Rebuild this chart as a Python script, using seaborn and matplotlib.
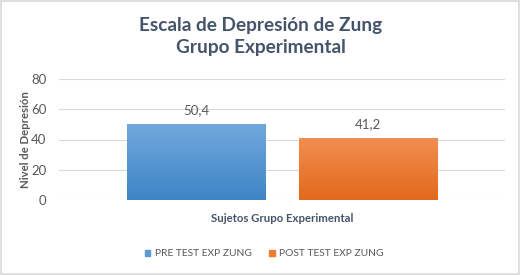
import matplotlib
matplotlib.use("Agg")
import matplotlib.pyplot as plt
import matplotlib.patches as mpatches
from matplotlib.colors import LinearSegmentedColormap
import numpy as np
import pandas as pd
import seaborn as sns

# ---- data ----
categories = ["Sujetos Grupo Experimental"]
series = ["PRE TEST EXP ZUNG", "POST TEST EXP ZUNG"]
values = [50.4, 41.2]
value_labels = ["50,4", "41,2"]
yticks = [0, 20, 40, 60, 80]

df = pd.DataFrame({"cat": categories * len(series), "serie": series, "valor": values})

sns.set_theme(style="white")
plt.rcParams["font.family"] = ["Lato", "DejaVu Sans"]

W, H = 521, 275
fig = plt.figure(figsize=(W / 100, H / 100), dpi=100)
fig.patch.set_facecolor("white")
ax = fig.add_axes([59 / W, 1 - 200 / H, (505 - 59) / W, (200 - 79) / H])

mid_colors = ["#5B9BD5", "#ED7D31"]
grad = [("#72A9DE", "#3E85C6"), ("#F28E52", "#E3691B")]

sns.barplot(data=df, x="cat", y="valor", hue="serie", palette=mid_colors,
            width=0.767, gap=0.193, ax=ax, legend=False, saturation=1)

ax.set_xlim(-0.5, 0.5)
ax.set_ylim(0, 80)
ax.set_yticks(yticks)
ax.set_yticklabels([str(t) for t in yticks], color="#595959", fontsize=9.5)
ax.tick_params(axis="y", length=0, pad=9)
ax.set_xticks([])
for s in ax.spines.values():
    s.set_visible(False)
ax.grid(axis="y", color="#D9D9D9", linewidth=0.8)
ax.set_axisbelow(True)

# gradient fill and value labels
for patch, (c_top, c_bot), lab in zip(ax.patches, grad, value_labels):
    x0, y0 = patch.get_x(), patch.get_y()
    w, h = patch.get_width(), patch.get_height()
    cmap = LinearSegmentedColormap.from_list("g", [c_bot, c_top])
    img = ax.imshow(np.linspace(0, 1, 100).reshape(-1, 1), cmap=cmap, aspect="auto",
                    extent=[x0, x0 + w, y0, y0 + h], origin="lower", zorder=patch.get_zorder() + 0.1)
    img.set_clip_path(patch)
    ax.text(x0 + w / 2, h + 5, lab, ha="center", va="bottom", color="#595959", fontsize=9.5)
ax.set_xlim(-0.5, 0.5)
ax.set_ylim(0, 80)

ax.set_ylabel("Nivel de Depresión", color="#595959", fontsize=8.2, fontweight="bold")
ax.yaxis.set_label_coords(-0.063, 0.5)
ax.set_xlabel("")
fig.text(0.5 * (59 + 505) / W, 1 - 218 / H, categories[0], ha="center", va="center",
         color="#44546A", fontsize=8.2, fontweight="bold")

fig.text(261 / W, 1 - 25 / H, "Escala de Depresión de Zung", ha="center", va="center",
         color="#44546A", fontsize=13.7, fontweight="bold")
fig.text(261 / W, 1 - 48 / H, "Grupo Experimental", ha="center", va="center",
         color="#44546A", fontsize=13.7, fontweight="bold")

handles = [mpatches.Patch(color=c, label=s) for c, s in zip(mid_colors, series)]
fig.legend(handles=handles, loc="center", bbox_to_anchor=(264 / W, 1 - 254 / H), ncol=2,
           frameon=False, fontsize=7.4, labelcolor="#595959", handlelength=0.55,
           handleheight=0.55, handletextpad=0.4, columnspacing=1.7)

fig.add_artist(mpatches.Rectangle((0.002, 0.003), 0.995, 0.993, transform=fig.transFigure,
                                  fill=False, edgecolor="#D9D9D9", linewidth=1.2))

fig.savefig("out.png", dpi=100)
